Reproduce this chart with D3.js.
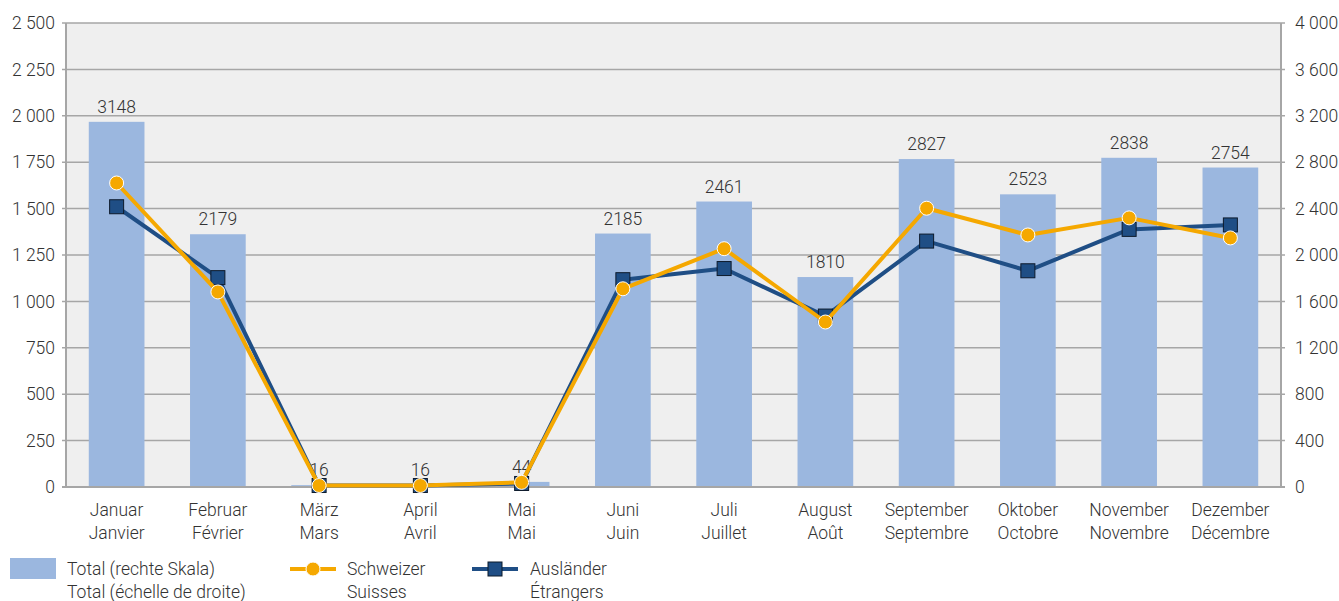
<!DOCTYPE html>
<html>
<head>
<meta charset="utf-8">
<script src="https://cdn.jsdelivr.net/npm/d3@7"></script>
<style>
  body { margin: 0; background: #fff; }
  text { font-family: Roboto, "Noto Sans", sans-serif; font-weight: 300; fill: #333; }
</style>
</head>
<body>
<svg id="chart" width="1339" height="601"></svg>
<script>
const monthsDe = ["Januar", "Februar", "März", "April", "Mai", "Juni", "Juli", "August", "September", "Oktober", "November", "Dezember"];
const monthsFr = ["Janvier", "Février", "Mars", "Avril", "Mai", "Juin", "Juillet", "Août", "Septembre", "Octobre", "Novembre", "Décembre"];
const total = [3148, 2179, 16, 16, 44, 2185, 2461, 1810, 2827, 2523, 2838, 2754];
const schweizer = [1638, 1051, 8, 8, 25, 1068, 1284, 889, 1502, 1358, 1450, 1342];
const auslaender = [1510, 1128, 8, 8, 19, 1117, 1177, 921, 1325, 1165, 1388, 1412];
const leftTicks = [0, 250, 500, 750, 1000, 1250, 1500, 1750, 2000, 2250, 2500];
const rightTicks = [0, 400, 800, 1200, 1600, 2000, 2400, 2800, 3200, 3600, 4000];

const svg = d3.select("#chart");
const plotL = 66, plotR = 1281, plotT = 23, plotB = 487;
const fs = 17.5;

const fmt = v => d3.format(",")(v).replace(/,/g, " ");

const x = d3.scaleBand().domain(d3.range(12)).range([plotL, plotR]).paddingInner(0.45).paddingOuter(0.225);
const yL = d3.scaleLinear().domain([0, 2500]).range([plotB, plotT]);
const yR = d3.scaleLinear().domain([0, 4000]).range([plotB, plotT]);

// plot background
svg.append("rect").attr("x", plotL).attr("y", plotT).attr("width", plotR - plotL).attr("height", plotB - plotT).attr("fill", "#efefef");

// grid lines
svg.append("g").selectAll("line").data(leftTicks).enter().append("line")
  .attr("x1", plotL - 4).attr("x2", plotR + 4)
  .attr("y1", d => yL(d)).attr("y2", d => yL(d))
  .attr("stroke", "#a6a6a6").attr("stroke-width", 1.5);

// axes
svg.append("line").attr("x1", plotL).attr("x2", plotL).attr("y1", plotT).attr("y2", plotB).attr("stroke", "#a6a6a6").attr("stroke-width", 2);
svg.append("line").attr("x1", plotR).attr("x2", plotR).attr("y1", plotT).attr("y2", plotB).attr("stroke", "#a6a6a6").attr("stroke-width", 2);

svg.append("g").selectAll("text").data(leftTicks).enter().append("text")
  .attr("x", 55).attr("y", d => yL(d)).attr("dy", "0.35em")
  .attr("text-anchor", "end").attr("font-size", fs).text(fmt);

svg.append("g").selectAll("text").data(rightTicks).enter().append("text")
  .attr("x", 1295).attr("y", d => yR(d)).attr("dy", "0.35em")
  .attr("text-anchor", "start").attr("font-size", fs).text(fmt);

// bars
svg.append("g").selectAll("rect").data(total).enter().append("rect")
  .attr("x", (d, i) => x(i)).attr("width", x.bandwidth())
  .attr("y", d => yR(d)).attr("height", d => plotB - yR(d))
  .attr("fill", "#9bb7df");

svg.append("g").selectAll("text").data(total).enter().append("text")
  .attr("x", (d, i) => x(i) + x.bandwidth() / 2).attr("y", d => yR(d) - 9)
  .attr("text-anchor", "middle").attr("font-size", fs).text(d => d);

// bottom axis line over bars
svg.append("line").attr("x1", plotL - 4).attr("x2", plotR + 4).attr("y1", plotB).attr("y2", plotB).attr("stroke", "#a6a6a6").attr("stroke-width", 2);

// category labels
const cat = svg.append("g").selectAll("text").data(monthsDe).enter().append("text")
  .attr("x", (d, i) => x(i) + x.bandwidth() / 2).attr("y", 516)
  .attr("text-anchor", "middle").attr("font-size", fs);
cat.append("tspan").text(d => d);
cat.append("tspan").attr("x", (d, i) => x(i) + x.bandwidth() / 2).attr("dy", 22.5).text((d, i) => monthsFr[i]);

const cx = i => x(i) + x.bandwidth() / 2;
const line = d3.line().x((d, i) => cx(i)).y(d => yL(d));

// Ausländer
svg.append("path").datum(auslaender).attr("d", line).attr("fill", "none")
  .attr("stroke", "#1f4e85").attr("stroke-width", 4).attr("stroke-linejoin", "round");
svg.append("g").selectAll("rect").data(auslaender).enter().append("rect")
  .attr("x", (d, i) => cx(i) - 7).attr("y", d => yL(d) - 7)
  .attr("width", 14).attr("height", 14)
  .attr("fill", "#1f4e85").attr("stroke", "#0d1a2b").attr("stroke-width", 1);

// Schweizer
svg.append("path").datum(schweizer).attr("d", line).attr("fill", "none")
  .attr("stroke", "#f5a800").attr("stroke-width", 4).attr("stroke-linejoin", "round");
svg.append("g").selectAll("circle").data(schweizer).enter().append("circle")
  .attr("cx", (d, i) => cx(i)).attr("cy", d => yL(d)).attr("r", 7)
  .attr("fill", "#f5a800").attr("stroke", "#fff").attr("stroke-width", 1);

// legend
const lg = svg.append("g");
lg.append("rect").attr("x", 10).attr("y", 558).attr("width", 46).attr("height", 21).attr("fill", "#9bb7df");
const legendText = (tx, l1, l2) => {
  const t = lg.append("text").attr("x", tx).attr("y", 575).attr("font-size", fs);
  t.append("tspan").text(l1);
  t.append("tspan").attr("x", tx).attr("dy", 22.5).text(l2);
};
legendText(67, "Total (rechte Skala)", "Total (échelle de droite)");

lg.append("line").attr("x1", 290).attr("x2", 336).attr("y1", 569).attr("y2", 569).attr("stroke", "#f5a800").attr("stroke-width", 4);
lg.append("circle").attr("cx", 313).attr("cy", 569).attr("r", 7).attr("fill", "#f5a800").attr("stroke", "#fff").attr("stroke-width", 1);
legendText(347, "Schweizer", "Suisses");

lg.append("line").attr("x1", 472).attr("x2", 518).attr("y1", 569).attr("y2", 569).attr("stroke", "#1f4e85").attr("stroke-width", 4);
lg.append("rect").attr("x", 488).attr("y", 562).attr("width", 14).attr("height", 14).attr("fill", "#1f4e85").attr("stroke", "#0d1a2b").attr("stroke-width", 1);
legendText(530, "Ausländer", "Étrangers");
</script>
</body>
</html>
